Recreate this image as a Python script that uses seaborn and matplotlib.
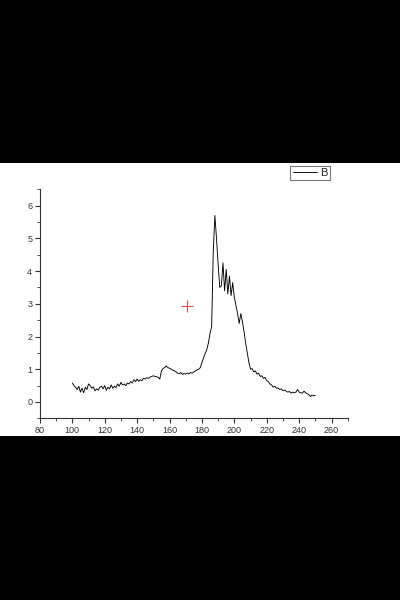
import numpy as np
import pandas as pd
import matplotlib
matplotlib.use("Agg")
import matplotlib.pyplot as plt
from matplotlib.patches import Rectangle
from matplotlib.ticker import MultipleLocator
import seaborn as sns

x_vals = list(range(100, 251))
y_vals = [
    0.58, 0.50, 0.45, 0.38, 0.48, 0.30, 0.42, 0.28, 0.45, 0.38,
    0.55, 0.50, 0.42, 0.46, 0.34, 0.40, 0.36, 0.45, 0.48, 0.40,
    0.50, 0.36, 0.45, 0.40, 0.52, 0.42, 0.48, 0.44, 0.55, 0.48,
    0.60, 0.52, 0.55, 0.50, 0.58, 0.55, 0.62, 0.58, 0.68, 0.62,
    0.70, 0.63, 0.68, 0.65, 0.72, 0.70, 0.74, 0.72, 0.76, 0.78,
    0.80, 0.78, 0.77, 0.75, 0.70, 0.95, 1.02, 1.05, 1.10, 1.05,
    1.03, 1.00, 0.97, 0.95, 0.92, 0.88, 0.86, 0.90, 0.84, 0.87,
    0.85, 0.88, 0.86, 0.90, 0.88, 0.92, 0.95, 0.98, 1.00, 1.05,
    1.20, 1.35, 1.48, 1.60, 1.80, 2.10, 2.30, 4.60, 5.70, 5.00,
    4.20, 3.50, 3.55, 4.25, 3.40, 4.05, 3.30, 3.85, 3.25, 3.65,
    3.20, 2.95, 2.70, 2.40, 2.70, 2.45, 2.15, 1.80, 1.50, 1.20,
    1.00, 1.02, 0.92, 0.95, 0.85, 0.88, 0.78, 0.80, 0.72, 0.75,
    0.65, 0.62, 0.55, 0.52, 0.45, 0.48, 0.42, 0.43, 0.38, 0.40,
    0.35, 0.36, 0.33, 0.30, 0.32, 0.27, 0.30, 0.28, 0.30, 0.38,
    0.30, 0.28, 0.27, 0.33, 0.28, 0.25, 0.22, 0.17, 0.21, 0.19,
    0.20,
]
marker_x = [170.5]
marker_y = [2.92]
x_ticks = [80, 100, 120, 140, 160, 180, 200, 220, 240, 260]
y_ticks = [0, 1, 2, 3, 4, 5, 6]
series_name = "B"

df = pd.DataFrame({"x": x_vals, "y": y_vals})

sns.set_style("ticks")
plt.rcParams["font.family"] = ["Liberation Sans", "DejaVu Sans"]
fig = plt.figure(figsize=(4, 6), dpi=100)
fig.patch.set_facecolor("black")
fig.add_artist(Rectangle((0, 1 - 436 / 600), 1, (436 - 163) / 600,
                         transform=fig.transFigure, facecolor="white",
                         edgecolor="none", zorder=0))

ax = fig.add_axes([0.0998, 1 - 418.3 / 600, 0.7695, (418.3 - 189.3) / 600])
ax.set_facecolor("none")
sns.lineplot(data=df, x="x", y="y", ax=ax, color="black", linewidth=0.65,
             label=series_name)
ax.plot(marker_x, marker_y, marker="+", color="#d9534f", markersize=8,
        markeredgewidth=0.8, linestyle="none")

ax.set_xlim(80, 270)
ax.set_ylim(-0.5, 6.5)
ax.set_xticks(x_ticks)
ax.set_yticks(y_ticks)
ax.xaxis.set_minor_locator(MultipleLocator(10))
ax.yaxis.set_minor_locator(MultipleLocator(0.5))
ax.set_xlabel("")
ax.set_ylabel("")
for s in ["top", "right"]:
    ax.spines[s].set_visible(False)
for s in ["left", "bottom"]:
    ax.spines[s].set_color("#333333")
    ax.spines[s].set_linewidth(0.8)
ax.tick_params(axis="both", which="major", direction="out", length=3.5,
               width=0.8, colors="#333333", labelsize=6.5, pad=2)
ax.tick_params(axis="both", which="minor", direction="out", length=2,
               width=0.6, colors="#333333")

leg = ax.legend(loc="upper right", bbox_to_anchor=(330 / 400, 1 - 166 / 600),
                bbox_transform=fig.transFigure, frameon=True, fancybox=False,
                fontsize=8, handlelength=2.2, borderpad=0.2,
                handletextpad=0.3, borderaxespad=0)
leg.get_frame().set_edgecolor("#555555")
leg.get_frame().set_linewidth(0.8)

fig.savefig("out.png", dpi=100, facecolor=fig.get_facecolor())
